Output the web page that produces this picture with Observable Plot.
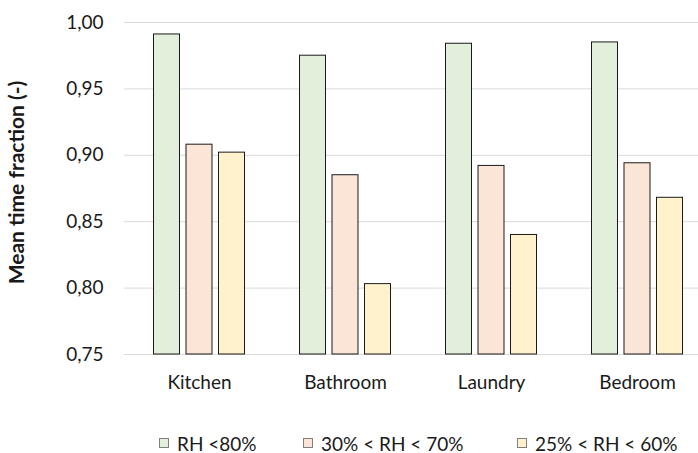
<!DOCTYPE html>
<html>
<head>
<meta charset="utf-8">
<script src="https://cdn.jsdelivr.net/npm/d3@7"></script>
<script src="https://cdn.jsdelivr.net/npm/@observablehq/plot@0.6"></script>
<style>
  html, body { margin: 0; padding: 0; background: #fff; }
  #chart { position: relative; width: 698px; height: 453px; font-family: Lato, "Open Sans", sans-serif; color: #1a1a1a; }
  #legend { position: absolute; left: 0; top: 432px; width: 698px; height: 22px; font-size: 19px; }
  .item { position: absolute; top: 0; display: flex; align-items: center; height: 22px; white-space: nowrap; }
  .swatch { width: 8px; height: 8px; border: 1px solid #7f7f7f; margin-right: 8px; }
</style>
</head>
<body>
<div id="chart"><div id="legend"></div></div>
<script>
// Rooms on the category axis
const rooms = ["Kitchen", "Bathroom", "Laundry", "Bedroom"];

// Mean time fraction per room for each relative-humidity criterion
const rhBelow80 = [0.991, 0.975, 0.984, 0.985];
const rh30to70 = [0.908, 0.885, 0.892, 0.894];
const rh25to60 = [0.902, 0.803, 0.840, 0.868];

// Series names and fills
const seriesNames = ["RH <80%", "30% < RH < 70%", "25% < RH < 60%"];
const seriesFills = ["#e2efda", "#fbe5d6", "#fff2cc"];

// Value axis ticks
const yTicks = [0.75, 0.80, 0.85, 0.90, 0.95, 1.00];

const seriesValues = [rhBelow80, rh30to70, rh25to60];
const yMin = yTicks[0];
const yMax = yTicks[yTicks.length - 1];
const fmt = (d) => d3.format(".2f")(d).replace(".", ",");

// Three bars side by side inside each room's band
const barOffsets = [-32.5, 0, 32.5];

const barMarks = seriesValues.map((values, i) =>
  Plot.barY(rooms.map((room, j) => ({room, value: values[j]})), {
    x: "room",
    y1: () => yMin,
    y2: "value",
    dx: barOffsets[i],
    fill: seriesFills[i],
    stroke: "#1a1a1a",
    strokeWidth: 1
  })
);

const plot = Plot.plot({
  width: 698,
  height: 405,
  marginLeft: 124,
  marginRight: 0,
  marginTop: 22,
  marginBottom: 51,
  style: {fontFamily: "Lato, 'Open Sans', sans-serif", fontSize: "19px", color: "#1a1a1a", background: "#fff"},
  x: {domain: rooms, range: [124, 711], paddingInner: 0.823, paddingOuter: 0.4115},
  y: {domain: [yMin, yMax]},
  marks: [
    Plot.ruleY(yTicks, {stroke: "#d9d9d9", strokeWidth: 1}),
    ...barMarks,
    Plot.axisX({tickSize: 0, tickPadding: 21, label: null, fontSize: 19}),
    Plot.axisY({ticks: yTicks, tickFormat: fmt, tickSize: 0, tickPadding: 21, label: null, fontSize: 19}),
    Plot.text(["Mean time fraction (-)"], {
      frameAnchor: "left",
      textAnchor: "middle",
      rotate: -90,
      dx: -107,
      dy: -6,
      fontWeight: "bold",
      fontSize: 21,
      fill: "#1a1a1a"
    })
  ]
});

document.getElementById("chart").prepend(plot);

// Legend below the chart
const legendLefts = [159, 303, 517];
const legend = d3.select("#legend");
seriesNames.forEach((name, i) => {
  const item = legend.append("div").attr("class", "item").style("left", legendLefts[i] + "px");
  item.append("div").attr("class", "swatch").style("background", seriesFills[i]);
  item.append("span").text(name);
});
</script>
</body>
</html>
